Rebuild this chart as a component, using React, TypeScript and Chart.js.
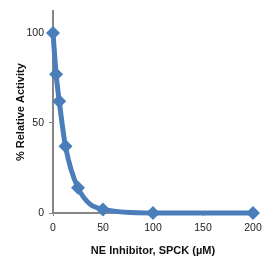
import React, { useEffect, useRef } from "react";
import { Chart, registerables } from "chart.js";

Chart.register(...registerables);

const concentrations = [0, 3.125, 6.25, 12.5, 25, 50, 100, 200];
const activity = [100, 77, 62, 37, 14, 2, 0, 0];
const xTicks = [0, 50, 100, 150, 200];
const yTicks = [0, 50, 100];
const xTitle = "NE Inhibitor, SPCK (\u00b5M)";
const yTitle = "% Relative Activity";

export default function App() {
  const ref = useRef<HTMLCanvasElement>(null);
  useEffect(() => {
    const axisColor = "#868686";
    const blue = "#4A7EBB";
    const chart = new Chart(ref.current!, {
      type: "line",
      data: {
        datasets: [
          {
            data: concentrations.map((x, i) => ({ x, y: activity[i] })),
            borderColor: blue,
            backgroundColor: blue,
            borderWidth: 5,
            pointStyle: "rectRot",
            pointRadius: 7,
            pointBorderWidth: 0,
            cubicInterpolationMode: "monotone",
            clip: false,
          },
        ],
      },
      options: {
        responsive: false,
        animation: false,
        layout: { padding: { left: 14, right: 23, top: 7, bottom: 3 } },
        plugins: { legend: { display: false }, tooltip: { enabled: false } },
        scales: {
          x: {
            type: "linear",
            min: 0,
            max: 200,
            afterBuildTicks: (s: any) => {
              s.ticks = xTicks.map((v) => ({ value: v }));
            },
            afterFit: (s: any) => {
              s.height = 45;
            },
            grid: { drawOnChartArea: false, drawTicks: true, tickLength: 3, color: axisColor },
            border: { color: axisColor, width: 2 },
            ticks: { color: "#222", font: { family: "Liberation Sans", size: 10.5 }, padding: 6, maxRotation: 0 },
            title: {
              display: true,
              text: xTitle,
              color: "#111",
              font: { family: "Liberation Sans", size: 11, weight: "bold" },
              padding: 0,
            },
          },
          y: {
            type: "linear",
            min: 0,
            max: 112,
            afterBuildTicks: (s: any) => {
              s.ticks = yTicks.map((v) => ({ value: v }));
            },
            afterFit: (s: any) => {
              s.width = 39;
            },
            grid: { drawOnChartArea: false, drawTicks: true, tickLength: 4, color: axisColor },
            border: { color: axisColor, width: 2 },
            ticks: { color: "#222", font: { family: "Liberation Sans", size: 10.5 }, padding: 5 },
            title: {
              display: true,
              text: yTitle,
              color: "#111",
              font: { family: "Liberation Sans", size: 11, weight: "bold" },
              padding: 0,
            },
          },
        },
      },
    });
    return () => chart.destroy();
  }, []);
  return (
    <div style={{ position: "absolute", left: 0, top: 0, width: 276, height: 261, background: "#fff" }}>
      <canvas ref={ref} width={276} height={261} style={{ width: 276, height: 261, display: "block" }} />
    </div>
  );
}
